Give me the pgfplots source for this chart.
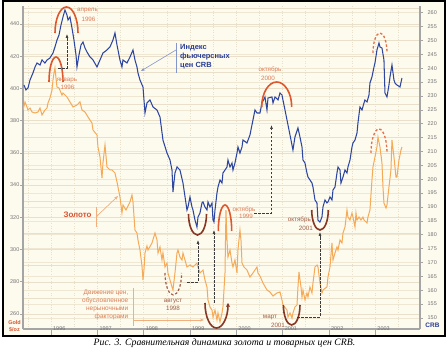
\documentclass[border=0pt]{standalone}
\usepackage{pgfplots}
\pgfplotsset{compat=1.18}
\usepackage{pgfplotstable}
\usepackage{fontspec}
\setmainfont{Liberation Sans}
\newfontfamily\capfont{Liberation Serif}
\usetikzlibrary{arrows.meta}

\definecolor{bgcream}{RGB}{253,250,238}
\definecolor{gridc}{RGB}{234,223,200}
\definecolor{axgray}{RGB}{165,165,165}
\definecolor{tickgray}{RGB}{115,115,115}
\definecolor{crbblue}{RGB}{45,70,160}
\definecolor{goldor}{RGB}{245,170,88}
\definecolor{arcred}{RGB}{222,88,45}
\definecolor{arcbrown}{RGB}{135,55,35}
\definecolor{lblsalmon}{RGB}{222,125,85}
\definecolor{lblbrown}{RGB}{160,95,70}
\definecolor{txtblue}{RGB}{40,60,150}
\definecolor{ptrblue}{RGB}{130,150,200}
\definecolor{ptror}{RGB}{240,175,125}
\definecolor{zolred}{RGB}{215,85,50}
\definecolor{dashc}{RGB}{60,60,60}

\pgfplotstableread{
year crb
1995.417 233.95
1995.460 232.15
1995.504 232.87
1995.547 235.75
1995.611 238.28
1995.655 240.44
1995.698 241.88
1995.763 241.16
1995.806 242.96
1995.870 241.88
1995.914 242.96
1995.978 243.68
1996.043 245.48
1996.086 247.64
1996.130 250.16
1996.173 251.97
1996.216 255.57
1996.259 258.45
1996.302 260.97
1996.345 259.17
1996.367 257.37
1996.410 258.45
1996.453 254.49
1996.496 250.16
1996.540 244.76
1996.561 240.44
1996.604 244.76
1996.648 248.36
1996.691 249.44
1996.734 247.28
1996.777 245.84
1996.842 244.04
1996.907 242.96
1996.993 240.44
1997.058 242.96
1997.122 245.48
1997.209 246.56
1997.273 247.64
1997.338 250.16
1997.381 252.69
1997.425 248.36
1997.489 242.96
1997.532 240.44
1997.554 242.96
1997.640 241.88
1997.705 244.04
1997.770 246.56
1997.813 242.96
1997.856 240.44
1997.878 238.28
1997.921 235.75
1997.986 233.23
1998.029 223.86
1998.072 227.47
1998.137 228.55
1998.202 226.02
1998.288 224.94
1998.353 222.42
1998.417 214.13
1998.504 209.45
1998.569 206.93
1998.612 203.33
1998.633 195.40
1998.676 202.25
1998.720 204.41
1998.784 203.33
1998.849 198.64
1998.935 188.91
1998.957 190.00
1999.000 193.60
1999.043 190.00
1999.065 188.91
1999.108 185.31
1999.151 182.79
1999.173 186.39
1999.216 187.83
1999.259 191.44
1999.281 191.80
1999.324 190.00
1999.367 188.91
1999.389 191.80
1999.432 190.00
1999.475 191.44
1999.497 185.31
1999.518 184.59
1999.540 188.91
1999.583 195.04
1999.605 197.20
1999.648 199.72
1999.691 198.64
1999.712 202.25
1999.756 203.33
1999.799 204.41
1999.820 206.93
1999.864 204.41
1999.907 205.85
1999.928 203.33
1999.971 205.85
2000.015 209.45
2000.036 211.61
2000.079 209.45
2000.123 211.61
2000.144 214.13
2000.230 213.05
2000.295 215.94
2000.338 219.54
2000.360 221.34
2000.403 224.94
2000.446 223.86
2000.511 223.86
2000.554 227.47
2000.619 229.63
2000.662 224.94
2000.684 229.27
2000.770 229.63
2000.792 227.47
2000.835 229.63
2000.900 228.55
2000.943 231.07
2000.986 230.35
2001.007 228.55
2001.051 224.94
2001.094 221.34
2001.159 215.94
2001.223 210.53
2001.266 215.21
2001.331 218.46
2001.374 215.21
2001.418 211.61
2001.439 206.93
2001.482 205.85
2001.525 202.25
2001.547 200.80
2001.590 199.72
2001.633 198.64
2001.655 197.20
2001.698 192.52
2001.741 191.44
2001.763 185.31
2001.806 184.59
2001.849 186.39
2001.871 190.00
2001.914 192.52
2001.957 191.44
2001.979 191.80
2002.022 193.60
2002.065 192.52
2002.087 196.12
2002.130 197.20
2002.173 202.25
2002.195 204.41
2002.238 203.33
2002.259 198.64
2002.303 200.80
2002.346 203.33
2002.389 202.25
2002.410 204.41
2002.454 206.93
2002.497 211.61
2002.518 213.05
2002.562 214.13
2002.605 216.66
2002.626 220.26
2002.669 226.02
2002.713 224.94
2002.756 227.47
2002.777 228.55
2002.821 227.83
2002.864 230.35
2002.885 234.67
2002.928 236.83
2002.972 240.44
2002.993 241.88
2003.036 246.56
2003.080 249.08
2003.101 247.64
2003.144 247.28
2003.187 242.96
2003.209 231.07
2003.252 229.63
2003.295 233.95
2003.317 236.83
2003.360 241.16
2003.403 235.75
2003.425 234.67
2003.468 233.95
2003.533 233.23
2003.576 236.47
}\crbdata

\pgfplotstableread{
year gold
1995.396 386.62
1995.439 391.61
1995.482 388.48
1995.504 386.62
1995.547 387.86
1995.590 385.38
1995.655 384.76
1995.719 385.38
1995.763 387.86
1995.806 383.52
1995.870 386.62
1995.914 387.86
1995.935 390.96
1995.978 394.07
1996.022 399.03
1996.043 405.24
1996.065 409.59
1996.086 412.69
1996.108 406.48
1996.130 400.90
1996.173 400.28
1996.237 395.93
1996.259 397.17
1996.345 394.69
1996.410 391.61
1996.475 388.48
1996.561 389.72
1996.626 391.61
1996.669 386.62
1996.734 385.38
1996.799 382.28
1996.842 380.41
1996.885 378.55
1996.907 374.21
1996.993 371.10
1997.014 363.66
1997.058 357.45
1997.101 344.41
1997.122 353.72
1997.166 364.90
1997.209 351.24
1997.273 349.38
1997.317 349.38
1997.381 347.52
1997.425 341.93
1997.446 338.83
1997.489 332.62
1997.532 322.68
1997.554 327.65
1997.619 324.54
1997.705 329.52
1997.748 333.86
1997.770 329.52
1997.813 312.13
1997.856 310.27
1997.878 305.93
1997.921 299.72
1997.964 289.79
1997.986 281.10
1998.007 287.31
1998.029 297.86
1998.072 302.20
1998.094 299.72
1998.180 304.06
1998.245 310.27
1998.288 305.93
1998.310 297.86
1998.353 301.58
1998.396 293.51
1998.417 297.86
1998.461 289.17
1998.504 291.65
1998.525 285.45
1998.569 281.10
1998.612 276.76
1998.633 274.90
1998.676 285.45
1998.720 297.86
1998.741 299.72
1998.784 295.38
1998.828 293.51
1998.849 297.86
1998.935 289.17
1999.000 290.41
1999.065 289.17
1999.151 291.65
1999.173 289.17
1999.216 285.45
1999.281 287.31
1999.324 281.10
1999.367 276.76
1999.389 268.69
1999.432 264.35
1999.475 262.48
1999.497 258.13
1999.540 262.48
1999.583 256.27
1999.605 260.62
1999.648 255.03
1999.691 260.62
1999.712 264.35
1999.756 285.45
1999.777 324.54
1999.799 305.93
1999.820 295.38
1999.864 299.72
1999.907 291.65
1999.928 289.17
1999.971 293.51
2000.015 285.45
2000.036 299.72
2000.079 312.13
2000.101 305.93
2000.123 291.65
2000.166 289.17
2000.230 287.31
2000.295 282.96
2000.360 285.45
2000.446 289.17
2000.468 285.45
2000.511 283.58
2000.576 279.24
2000.662 274.90
2000.727 273.65
2000.792 271.17
2000.878 273.03
2000.943 273.65
2000.986 268.69
2001.007 265.58
2001.094 262.48
2001.115 258.13
2001.159 260.62
2001.202 257.51
2001.223 260.62
2001.266 264.35
2001.310 265.58
2001.331 276.76
2001.353 286.07
2001.396 276.76
2001.418 270.55
2001.439 274.90
2001.482 268.69
2001.525 273.03
2001.547 270.55
2001.590 276.76
2001.633 273.03
2001.655 279.24
2001.698 289.17
2001.741 290.41
2001.763 289.17
2001.806 279.24
2001.849 273.03
2001.871 274.90
2001.957 276.76
2001.979 282.96
2002.022 289.17
2002.065 304.06
2002.087 293.51
2002.130 297.86
2002.173 301.58
2002.195 299.72
2002.238 305.93
2002.281 304.06
2002.303 310.27
2002.346 313.98
2002.389 324.54
2002.410 320.19
2002.454 318.34
2002.497 322.68
2002.518 320.19
2002.562 313.98
2002.583 322.68
2002.605 318.34
2002.648 320.19
2002.691 318.34
2002.734 320.19
2002.756 318.34
2002.821 316.48
2002.842 320.19
2002.885 324.54
2002.928 343.17
2002.950 351.24
2002.993 357.45
2003.036 363.66
2003.058 369.86
2003.101 363.66
2003.144 353.72
2003.166 338.83
2003.187 328.89
2003.231 325.79
2003.252 327.65
2003.295 338.83
2003.338 349.38
2003.360 368.00
2003.403 357.45
2003.446 345.03
2003.468 345.03
2003.511 355.58
2003.555 361.79
2003.576 363.66
}\golddata

\pgfplotsset{
  frame/.style={at={(23bp,24bp)}, anchor=south west, scale only axis,
    width=397bp, height=323bp, xmin=1995.396, xmax=2003.965,
    /pgf/number format/assume math mode=true,
    /pgf/number format/1000 sep={},
    tick label style={font=\fontsize{5.5}{6}\selectfont, text=tickgray},
  },
}

\begin{document}
\begin{tikzpicture}
\useasboundingbox (0,0) rectangle (447bp,353bp);
\fill[white] (0,0) rectangle (447bp,353bp);
\begin{scope}[shift={(0bp,353bp)},x=1bp,y=-1bp]
  \fill[bgcream] (3,1) rectangle (445,336);
\end{scope}

% vertical half-year grid
\begin{axis}[frame, ymin=0, ymax=1, xtick={1995.5,1996,...,2003.5}, ytick=\empty,
  xmajorgrids, grid style={draw=gridc, dotted, line width=0.6bp},
  xticklabels={}, axis line style={draw=none}, major tick length=0pt]
\end{axis}

% CRB horizontal grid
\begin{axis}[frame, ymin=146.04, ymax=262.41, ytick={150,155,...,260}, xtick=\empty,
  ymajorgrids, grid style={draw=gridc!70!bgcream, line width=0.5bp},
  yticklabels={}, axis line style={draw=none}, major tick length=0pt]
\end{axis}

% Gold axis
\begin{axis}[frame, ymin=250.69, ymax=451.17,
  axis x line*=bottom, axis y line*=left,
  axis line style={draw=axgray, line width=2bp},
  ytick={260,280,...,440}, minor ytick={270,290,...,450},
  ymajorgrids, yminorgrids, grid style={draw=gridc, line width=0.5bp},
  xtick={1996,...,2003},
  xticklabels={1996,1997,1998,1999,2000,2001,2002,2003},
  tick align=outside, major tick length=3bp, minor tick length=0pt,
  tick style={draw=axgray, line width=0.6bp},
  xtick style={/pgfplots/major tick length=7bp},
  xticklabel style={anchor=west, inner sep=0pt, xshift=2bp, yshift=3bp},
  yticklabel style={anchor=east, inner sep=0.5bp}]
\addplot[goldor, line width=1bp] table[x=year,y=gold]{\golddata};
\end{axis}

% CRB axis
\begin{axis}[frame, ymin=146.04, ymax=262.41,
  axis y line*=right, axis x line=none, xtick=\empty,
  axis line style={draw=axgray, line width=2bp},
  ytick={150,155,...,260},
  tick align=outside, major tick length=3bp,
  tick style={draw=axgray, line width=0.6bp},
  yticklabel style={anchor=west, inner sep=0.5bp, xshift=4bp}]
\addplot[crbblue, line width=1.05bp] table[x=year,y=crb]{\crbdata};
\end{axis}

\begin{scope}[shift={(0bp,353bp)},x=1bp,y=-1bp]
  \draw[black, line width=1.2bp] (3,1) rectangle (445,336);
  % peak arcs
  \draw[arcred, line width=1.6bp] (55,33) arc[start angle=180, end angle=360, x radius=11.5, y radius=26];
  \draw[arcred, line width=1.6bp] (49,82) arc[start angle=180, end angle=360, x radius=7, y radius=25];
  \draw[arcred, line width=1.6bp] (261.7,107) arc[start angle=180, end angle=360, x radius=15, y radius=25];
  \draw[arcred, line width=1.6bp] (218.3,231) arc[start angle=180, end angle=360, x radius=6.7, y radius=26];
  \draw[arcred!85!white, line width=1.3bp, dash pattern=on 2.5bp off 2bp] (373,53) arc[start angle=180, end angle=360, x radius=7, y radius=20];
  \draw[arcred!85!white, line width=1.3bp, dash pattern=on 2.5bp off 2bp] (371,153) arc[start angle=180, end angle=360, x radius=8, y radius=24];
  % valley arcs
  \draw[arcbrown, line width=1.6bp] (188.5,214) arc[start angle=180, end angle=0, x radius=9, y radius=21];
  \draw[arcbrown, line width=1.6bp] (311.7,210) arc[start angle=180, end angle=0, x radius=8.3, y radius=20];
  \draw[arcbrown, line width=1.6bp] (283.4,305) arc[start angle=180, end angle=0, x radius=8.3, y radius=20];
  \draw[arcbrown, line width=1.6bp, -{Stealth[length=4bp,width=4bp]}] (205,303) arc[start angle=180, end angle=0, x radius=11.5, y radius=25];
  \draw[lblbrown, line width=1.2bp, dash pattern=on 2.5bp off 2bp] (165,273) arc[start angle=180, end angle=0, x radius=8.3, y radius=22];
  % dashed arrows
  \begin{scope}[dashc, line width=0.6bp, dash pattern=on 2.5bp off 1.5bp, -{Latex[length=4bp,width=3bp]}]
    \draw (58,68) -- (67,68) -- (67,34);
    \draw (187,282) -- (198,282) -- (198,240);
    \draw (214,303) -- (214,230);
    \draw (254,213) -- (271.5,213) -- (271.5,125);
    \draw (297,317) -- (320,317) -- (320,232);
  \end{scope}
  % pointers
  \draw[ptrblue, line width=0.6bp] (176,43) -- (176,73);
  \draw[ptrblue, line width=0.6bp, -{Stealth[length=4bp,width=3bp]}] (176,50) -- (141,71);
  \draw[ptror, line width=0.7bp] (96,207) -- (96,227);
  \draw[ptror, line width=0.7bp, -{Stealth[length=4bp,width=3bp]}] (97,216) -- (118,196);
  \draw[ptror, line width=0.8bp] (133,288) -- (133,326);
  \draw[ptror, line width=0.8bp, -{Stealth[length=4bp,width=3bp]}] (133,320) -- (204,320);
  % labels
  \begin{scope}[every node/.style={inner sep=0pt, font=\fontsize{6.3}{7}\selectfont}]
    \node[text=lblsalmon] at (87.5,10) {апрель};
    \node[text=lblsalmon] at (88.5,19.5) {1996};
    \node[text=lblsalmon] at (67,80) {январь};
    \node[text=lblsalmon] at (67.5,87.5) {1996};
    \node[text=lblsalmon] at (270,70) {октябрь};
    \node[text=lblsalmon] at (268,78.5) {2000};
    \node[text=lblsalmon] at (244,209.5) {октябрь};
    \node[text=lblsalmon] at (246,216.5) {1999};
    \node[text=lblbrown] at (173,301) {август};
    \node[text=lblbrown] at (173,308.5) {1998};
    \node[text=lblbrown] at (270,317.5) {март};
    \node[text=lblbrown] at (278,325.5) {2001};
    \node[text=lblbrown, anchor=east] at (311,220) {октябрь};
    \node[text=lblbrown, anchor=east] at (313,228.5) {2001};
  \end{scope}
  \node[anchor=north west, inner sep=0pt, align=left, text=txtblue, font=\bfseries\fontsize{7.5}{9.2}\selectfont] at (180,44) {Индекс\\фьючерсных\\цен CRB};
  \node[inner sep=0pt, text=zolred, font=\bfseries\fontsize{8}{9}\selectfont] at (77.5,215) {Золото};
  \node[anchor=north east, inner sep=0pt, align=right, text=lblsalmon, font=\fontsize{6.5}{8}\selectfont] at (128.5,289.5) {Движение цен,\\обусловленное\\нерыночными\\факторами};
  \node[inner sep=0pt, align=center, text=zolred, font=\bfseries\fontsize{5.5}{7.5}\selectfont] at (14.5,326) {Gold\\\$/oz};
  \node[inner sep=0pt, text=txtblue, font=\bfseries\fontsize{6.5}{7}\selectfont] at (432.5,325.7) {CRB};
  \node[inner sep=0pt, font=\capfont\itshape\fontsize{9.8}{12}\selectfont] at (224.5,343) {Рис. 3. Сравнительная динамика золота и товарных цен CRB.};
\end{scope}
\end{tikzpicture}
\end{document}
